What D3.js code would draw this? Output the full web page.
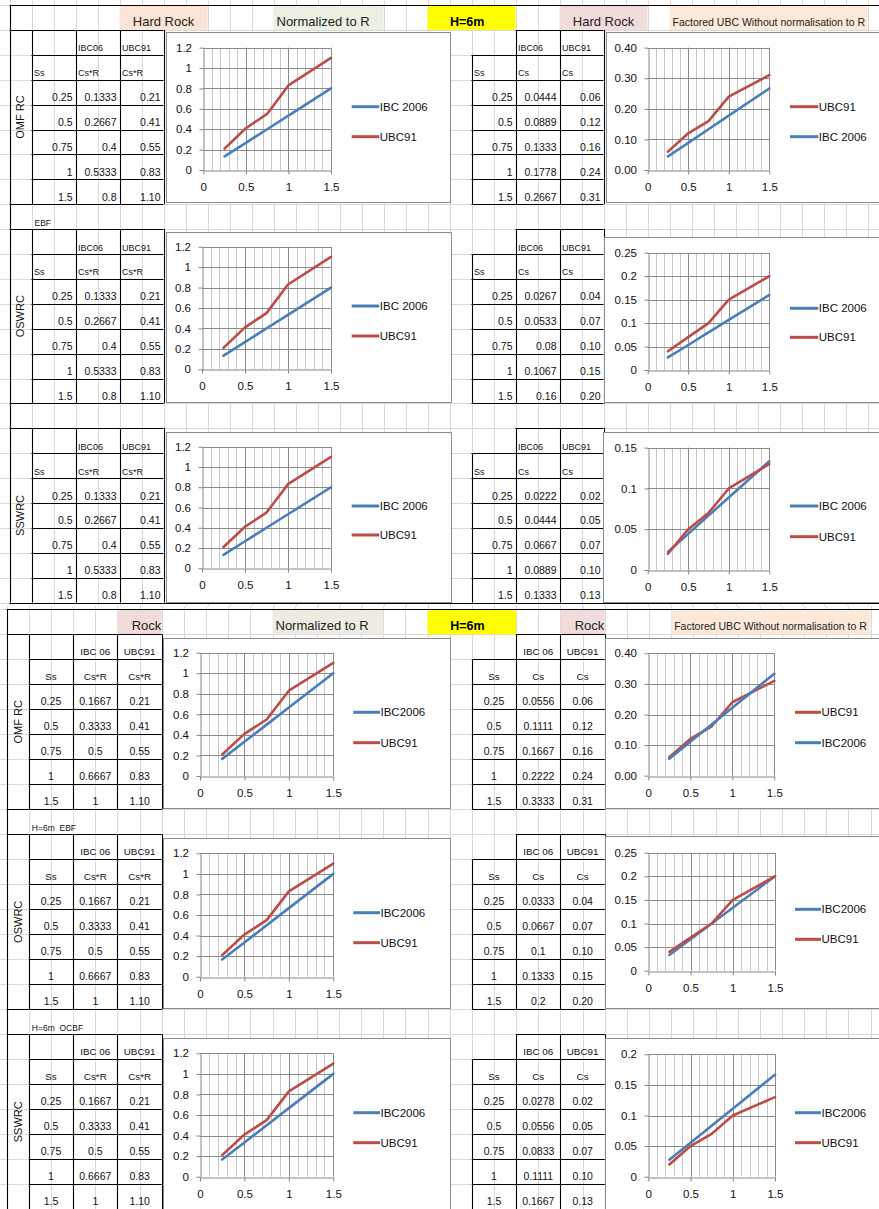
<!DOCTYPE html>
<html>
<head>
<meta charset="utf-8">
<script src="https://cdn.jsdelivr.net/npm/d3@7"></script>
<style>
  body { margin: 0; background: #fff; }
  svg { display: block; font-family: "Liberation Sans", Arial, sans-serif; }
</style>
</head>
<body>
<script>
// ---- values ----
const ssValues = [0.25, 0.5, 0.75, 1, 1.5];
const ubcNormalized = [0.21, 0.41, 0.55, 0.83, 1.10];
const hardRockIbcNormalized = [0.1333, 0.2667, 0.4, 0.5333, 0.8];
const rockIbcNormalized = [0.1667, 0.3333, 0.5, 0.6667, 1];
const hardOmfIbcCs = [0.0444, 0.0889, 0.1333, 0.1778, 0.2667];
const hardOswIbcCs = [0.0267, 0.0533, 0.08, 0.1067, 0.16];
const hardSswIbcCs = [0.0222, 0.0444, 0.0667, 0.0889, 0.1333];
const rockOmfIbcCs = [0.0556, 0.1111, 0.1667, 0.2222, 0.3333];
const rockOswIbcCs = [0.0333, 0.0667, 0.1, 0.1333, 0.2];
const rockSswIbcCs = [0.0278, 0.0556, 0.0833, 0.1111, 0.1667];
const omfUbcCs = [0.06, 0.12, 0.16, 0.24, 0.31];
const oswUbcCs = [0.04, 0.07, 0.10, 0.15, 0.20];
const sswUbcCs = [0.02, 0.05, 0.07, 0.10, 0.13];
const systemLabels = ["OMF RC", "OSWRC", "SSWRC"];
const xTicks = [0, 0.5, 1, 1.5];
const normTicks = [0, 0.2, 0.4, 0.6, 0.8, 1, 1.2];
const csTicks40 = [0, 0.1, 0.2, 0.3, 0.4];
const csTicks25 = [0, 0.05, 0.1, 0.15, 0.2, 0.25];
const csTicks20 = [0, 0.05, 0.1, 0.15, 0.2];
const csTicks15 = [0, 0.05, 0.1, 0.15];

const BLUE = "#4a7ebb", RED = "#be4b48";
const W = 879, H = 1209;
const general = v => String(+v.toFixed(4));
const fixed2 = v => v.toFixed(2);
const px = v => Math.round(v) + 0.5;

const svg = d3.select("body").append("svg").attr("width", W).attr("height", H);

// sheet column / row scales (two pasted ranges with slightly different zoom)
const col1 = d3.scaleLinear().domain([0, 1]).range([9.5, 31.5]);
const row1 = d3.scaleLinear().domain([0, 1]).range([5, 29.9]);
const col2 = d3.scaleLinear().domain([0, 1]).range([6.7, 28.85]);
const row2 = d3.scaleLinear().domain([0, 1]).range([609.3, 634.3]);

// ---- worksheet gridlines ----
const grid = svg.append("g").attr("stroke", "#d9d9d9").attr("stroke-width", 1);
d3.range(0, 41).map(col1).filter(x => x <= W).forEach(x =>
  grid.append("line").attr("x1", px(x)).attr("x2", px(x)).attr("y1", 0).attr("y2", 606));
d3.range(0, 25).map(row1).forEach(y =>
  grid.append("line").attr("x1", 0).attr("x2", W).attr("y1", px(y)).attr("y2", px(y)));
d3.range(0, 41).map(col2).filter(x => x <= W).forEach(x =>
  grid.append("line").attr("x1", px(x)).attr("x2", px(x)).attr("y1", 606).attr("y2", H));
d3.range(0, 25).map(row2).forEach(y =>
  grid.append("line").attr("x1", 0).attr("x2", W).attr("y1", px(y)).attr("y2", px(y)));

const sections = [
  {
    col: col1, row: row1, endRow: 602.6,
    leftTitle: "Hard Rock", rightTitle: "Hard Rock",
    titleFill: "#fbe4d5", rightTitleFill: "#f2dcdb", normFill: "#ebf1de",
    ibcHead: "IBC06", ibcNorm: hardRockIbcNormalized,
    ibcCs: [hardOmfIbcCs, hardOswIbcCs, hardSswIbcCs],
    notes: ["", "EBF", ""], centered: false, titleY: 26, legendIbc: "IBC 2006",
    titleCols: [5, 9], rightTitleCols: [25, 29], titleAnchor: "middle"
  },
  {
    col: col2, row: row2, endRow: H + 2,
    leftTitle: "Rock", rightTitle: "Rock",
    titleFill: "#f2dcdb", rightTitleFill: "#f2dcdb", normFill: "#eeece1",
    ibcHead: "IBC 06", ibcNorm: rockIbcNormalized,
    ibcCs: [rockOmfIbcCs, rockOswIbcCs, rockSswIbcCs],
    notes: ["", "H=6m  EBF", "H=6m  OCBF"], centered: true, titleY: 630, legendIbc: "IBC2006",
    titleCols: [5, 7], rightTitleCols: [25, 27], titleAnchor: "end"
  }
];
const ubcCs = [omfUbcCs, oswUbcCs, sswUbcCs];

function fillCell(g, x0, x1, y0, y1, color) {
  g.append("rect").attr("x", x0).attr("y", y0).attr("width", x1 - x0).attr("height", y1 - y0).attr("fill", color);
}
function hline(g, x0, x1, y) {
  g.append("line").attr("x1", x0).attr("x2", x1).attr("y1", px(y)).attr("y2", px(y));
}
function vline(g, x, y0, y1) {
  g.append("line").attr("x1", px(x)).attr("x2", px(x)).attr("y1", y0).attr("y2", y1);
}

// ---- header row, tables and notes ----
sections.forEach(s => {
  const c = s.col, r = s.row;
  const head = svg.append("g");
  const hy0 = r(0), hy1 = r(1);
  fillCell(head, c(s.titleCols[0]), c(s.titleCols[1]), hy0, hy1, s.titleFill);
  fillCell(head, c(12), c(17), hy0, hy1, s.normFill);
  fillCell(head, c(19), c(23), hy0, hy1, "#ffff00");
  fillCell(head, c(s.rightTitleCols[0]), c(s.rightTitleCols[1]), hy0, hy1, s.rightTitleFill);
  fillCell(head, c(30), c(39), hy0, hy1, "#fde9d9");

  const tx = s.titleAnchor === "middle"
    ? [(c(s.titleCols[0]) + c(s.titleCols[1])) / 2, (c(s.rightTitleCols[0]) + c(s.rightTitleCols[1])) / 2]
    : [c(s.titleCols[1]) - 0.5, c(s.rightTitleCols[1]) - 0.5];
  head.append("text").attr("x", tx[0]).attr("y", s.titleY).attr("text-anchor", s.titleAnchor)
    .attr("font-size", 13).attr("fill", "#222").text(s.leftTitle);
  head.append("text").attr("x", tx[1]).attr("y", s.titleY).attr("text-anchor", s.titleAnchor)
    .attr("font-size", 13).attr("fill", "#222").text(s.rightTitle);
  head.append("text").attr("x", c(12) + 3).attr("y", s.titleY).attr("font-size", 13).attr("fill", "#222")
    .text("Normalized to R");
  head.append("text").attr("x", c(20) + 0.5).attr("y", s.titleY).attr("font-size", 12.5)
    .attr("font-weight", "bold").text("H=6m");
  head.append("text").attr("x", c(30) + 3).attr("y", s.titleY).attr("font-size", 10.5).attr("fill", "#222")
    .text("Factored UBC Without normalisation to R");

  const borders = svg.append("g").attr("stroke", "#000").attr("stroke-width", 1.1);
  const texts = svg.append("g").attr("fill", "#111");

  // section frame
  hline(borders, c(0), W, r(0));
  vline(borders, c(0), r(0), s.endRow);

  function put(text, x0, x1, yb, kind, size) {
    const off = s.centered ? 4.3 : 3.5;
    let x = x0 + 2.5, anchor = "start";
    if (s.centered) { x = (x0 + x1) / 2; anchor = "middle"; }
    else if (kind === "num") { x = x1 - 3; anchor = "end"; }
    texts.append("text").attr("x", x).attr("y", yb - off).attr("text-anchor", anchor)
      .attr("font-size", size).text(text);
  }

  [0, 1, 2].forEach(b => {
    const r0 = 8 * b + 1;
    const ry = k => r(r0 + k);

    if (s.notes[b]) {
      texts.append("text").attr("x", c(1) + 3).attr("y", ry(0) - 3).attr("font-size", 8.5)
        .style("white-space", "pre").text(s.notes[b]);
    }

    // left table: label column + Ss | IBC | UBC (normalised)
    hline(borders, c(0), c(7), ry(0));
    d3.range(1, 7).forEach(k => hline(borders, c(1), c(7), ry(k)));
    hline(borders, c(0), c(7), ry(7));
    [1, 3, 5, 7].forEach(k => vline(borders, c(k), ry(0), ry(7)));

    texts.append("text")
      .attr("transform", `translate(${(c(0) + c(1)) / 2},${(ry(0) + ry(7)) / 2}) rotate(-90)`)
      .attr("text-anchor", "middle").attr("dy", "0.35em").attr("font-size", 11).text(systemLabels[b]);

    const hs = s.centered ? 9.8 : 9;
    put(s.ibcHead, c(3), c(5), ry(1), "head", hs);
    put("UBC91", c(5), c(7), ry(1), "head", hs);
    put("Ss", c(1), c(3), ry(2), "head", hs);
    put("Cs*R", c(3), c(5), ry(2), "head", hs);
    put("Cs*R", c(5), c(7), ry(2), "head", hs);
    ssValues.forEach((ss, i) => {
      put(general(ss), c(1), c(3), ry(i + 3), "num", 10.5);
      put(general(s.ibcNorm[i]), c(3), c(5), ry(i + 3), "num", 10.5);
      put(fixed2(ubcNormalized[i]), c(5), c(7), ry(i + 3), "num", 10.5);
    });

    // right table: Ss | IBC Cs | UBC Cs
    hline(borders, c(23), c(27), ry(0));
    d3.range(1, 8).forEach(k => hline(borders, c(21), c(27), ry(k)));
    vline(borders, c(21), ry(1), ry(7));
    [23, 25, 27].forEach(k => vline(borders, c(k), ry(0), ry(7)));

    put(s.ibcHead, c(23), c(25), ry(1), "head", hs);
    put("UBC91", c(25), c(27), ry(1), "head", hs);
    put("Ss", c(21), c(23), ry(2), "head", hs);
    put("Cs", c(23), c(25), ry(2), "head", hs);
    put("Cs", c(25), c(27), ry(2), "head", hs);
    ssValues.forEach((ss, i) => {
      put(general(ss), c(21), c(23), ry(i + 3), "num", 10.5);
      put(general(s.ibcCs[b][i]), c(23), c(25), ry(i + 3), "num", 10.5);
      put(fixed2(ubcCs[b][i]), c(25), c(27), ry(i + 3), "num", 10.5);
    });
  });
});

// bottom edge of the first range
const edge = svg.append("g").attr("stroke", "#000").attr("stroke-width", 1.1);
hline(edge, col1(0), W, 602.6);

// ---- charts ----
const charts = [
  // Hard Rock
  { frame: [165.7, 32.3, 449.3, 202.7], plot: [203.3, 331, 47.7, 170], legend: [351.7, 379.3, 106.7, 136.7],
    ticks: normTicks, fmt: general,
    series: [["IBC 2006", hardRockIbcNormalized, BLUE], ["UBC91", ubcNormalized, RED]] },
  { frame: [605.7, 32.3, 900, 202.7], plot: [647.7, 769.3, 47.7, 170], legend: [790, 818.3, 106.7, 136.7],
    ticks: csTicks40, fmt: fixed2,
    series: [["UBC91", omfUbcCs, RED], ["IBC 2006", hardOmfIbcCs, BLUE]] },
  { frame: [165.7, 232.3, 451, 402.7], plot: [202, 331, 246.7, 369.3], legend: [351.7, 379.3, 306, 336],
    ticks: normTicks, fmt: general,
    series: [["IBC 2006", hardRockIbcNormalized, BLUE], ["UBC91", ubcNormalized, RED]] },
  { frame: [604.3, 237.3, 900, 402.7], plot: [647.7, 769.3, 252.7, 370], legend: [790, 818.3, 308.3, 337.3],
    ticks: csTicks25, fmt: general,
    series: [["IBC 2006", hardOswIbcCs, BLUE], ["UBC91", oswUbcCs, RED]] },
  { frame: [165.7, 432.3, 451, 602.6], plot: [202, 331, 446.7, 568.3], legend: [351.7, 379.3, 506, 535],
    ticks: normTicks, fmt: general,
    series: [["IBC 2006", hardRockIbcNormalized, BLUE], ["UBC91", ubcNormalized, RED]] },
  { frame: [603.3, 432.3, 900, 602.6], plot: [647.7, 769.3, 447.7, 570], legend: [790, 818.3, 506, 536.7],
    ticks: csTicks15, fmt: general,
    series: [["IBC 2006", hardSswIbcCs, BLUE], ["UBC91", sswUbcCs, RED]] },
  // Rock
  { frame: [163.3, 638.3, 450, 808.3], plot: [200, 333.3, 652.7, 776], legend: [353.3, 380, 712.3, 742.7],
    ticks: normTicks, fmt: general,
    series: [["IBC2006", rockIbcNormalized, BLUE], ["UBC91", ubcNormalized, RED]] },
  { frame: [605, 638.3, 900, 808.3], plot: [648.3, 774.3, 653.3, 775.7], legend: [795, 821, 712.3, 742.7],
    ticks: csTicks40, fmt: fixed2,
    series: [["UBC91", omfUbcCs, RED], ["IBC2006", rockOmfIbcCs, BLUE]] },
  { frame: [163.3, 838.3, 450, 1008.3], plot: [200, 333.3, 853.3, 976.7], legend: [353.3, 380, 912.7, 942.7],
    ticks: normTicks, fmt: general,
    series: [["IBC2006", rockIbcNormalized, BLUE], ["UBC91", ubcNormalized, RED]] },
  { frame: [605, 836, 900, 1008.3], plot: [648.3, 775, 852.7, 970.7], legend: [795, 821, 909.3, 939.3],
    ticks: csTicks25, fmt: general,
    series: [["IBC2006", rockOswIbcCs, BLUE], ["UBC91", oswUbcCs, RED]] },
  { frame: [163.3, 1038.3, 450, 1220], plot: [200, 333.3, 1053.3, 1176.7], legend: [353.3, 380, 1112.7, 1142.7],
    ticks: normTicks, fmt: general,
    series: [["IBC2006", rockIbcNormalized, BLUE], ["UBC91", ubcNormalized, RED]] },
  { frame: [605, 1038.3, 900, 1220], plot: [648.3, 775, 1054.3, 1176.7], legend: [795, 821, 1112.7, 1142.7],
    ticks: csTicks20, fmt: general,
    series: [["IBC2006", rockSswIbcCs, BLUE], ["UBC91", sswUbcCs, RED]] }
];

charts.forEach(ch => {
  const g = svg.append("g");
  const [fx0, fy0, fx1, fy1] = ch.frame;
  g.append("rect").attr("x", px(fx0)).attr("y", px(fy0))
    .attr("width", Math.round(fx1 - fx0)).attr("height", Math.round(fy1 - fy0))
    .attr("fill", "#fff").attr("stroke", "#8c8c8c").attr("stroke-width", 1);

  const [x0, x1, yT, yB] = ch.plot;
  const x = d3.scaleLinear().domain([0, 1.5]).range([x0, x1]);
  const y = d3.scaleLinear().domain([0, d3.max(ch.ticks)]).range([yB, yT]);

  // minor vertical gridlines every 0.1, major at the labelled ticks
  const minor = d3.range(1, 15).map(i => i / 10).filter(v => !xTicks.some(t => Math.abs(t - v) < 1e-9));
  minor.forEach(v => g.append("line").attr("x1", px(x(v))).attr("x2", px(x(v)))
    .attr("y1", yT).attr("y2", yB).attr("stroke", "#c6c6c6"));
  xTicks.slice(1).forEach(v => g.append("line").attr("x1", px(x(v))).attr("x2", px(x(v)))
    .attr("y1", yT).attr("y2", yB).attr("stroke", "#8a8a8a"));
  ch.ticks.slice(1).forEach(v => g.append("line").attr("x1", x0).attr("x2", x1)
    .attr("y1", px(y(v))).attr("y2", px(y(v))).attr("stroke", "#8a8a8a"));

  const ay = g.append("g").attr("transform", `translate(${px(x0)},0)`)
    .call(d3.axisLeft(y).tickValues(ch.ticks).tickFormat(ch.fmt).tickSize(4).tickSizeOuter(0).tickPadding(7.5));
  const ax = g.append("g").attr("transform", `translate(0,${px(yB)})`)
    .call(d3.axisBottom(x).tickValues(xTicks).tickFormat(general).tickSize(4).tickSizeOuter(0).tickPadding(8.8));
  [ay, ax].forEach(a => {
    a.select(".domain").attr("stroke", "#868686");
    a.selectAll(".tick line").attr("stroke", "#868686");
    a.selectAll("text").attr("font-size", 11.5).attr("fill", "#111")
      .attr("font-family", '"Liberation Sans", Arial, sans-serif');
  });

  const line = d3.line().x((d, i) => x(ssValues[i])).y(d => y(d));
  ch.series.forEach(([name, vals, color], k) => {
    g.append("path").attr("d", line(vals)).attr("fill", "none").attr("stroke", color)
      .attr("stroke-width", 2.6).attr("stroke-linejoin", "round").attr("stroke-linecap", "round");
    const ly = ch.legend[2 + k];
    g.append("line").attr("x1", ch.legend[0]).attr("x2", ch.legend[1]).attr("y1", ly).attr("y2", ly)
      .attr("stroke", color).attr("stroke-width", 3);
    g.append("text").attr("x", ch.legend[1] + 0.5).attr("y", ly).attr("dy", "0.36em")
      .attr("font-size", 11.5).attr("fill", "#111").text(name);
  });
});
</script>
</body>
</html>
